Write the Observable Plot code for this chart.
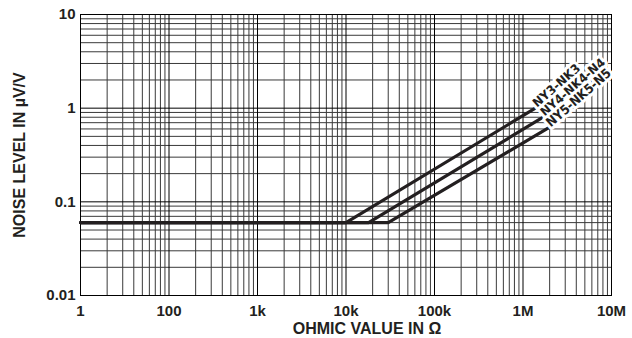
<!DOCTYPE html>
<html>
<head>
<meta charset="utf-8">
<script src="https://cdn.jsdelivr.net/npm/d3@7"></script>
<script src="https://cdn.jsdelivr.net/npm/@observablehq/plot@0.6"></script>
<style>
  body { margin: 0; background: #fff; }
</style>
</head>
<body>
<div id="chart"></div>
<script>
// Axis ticks and labels (the first decade is labelled "1" in the original)
const xTicks = [10, 100, 1e3, 1e4, 1e5, 1e6, 1e7];
const xTickLabels = ["1", "100", "1k", "10k", "100k", "1M", "10M"];
const yTicks = [0.01, 0.1, 1, 10];
const yTickLabels = ["0.01", "0.1", "1", "10"];

const xTitle = "OHMIC VALUE IN Ω";
const yTitle = "NOISE LEVEL IN µV/V";

// Series
const seriesNames = ["NY3-NK3", "NY4-NK4-N4", "NY5-NK5-N5"];
const ohmsNY3 = [10, 10000, 1380000];
const noiseNY3 = [0.06, 0.06, 1.0];
const ohmsNY4 = [10, 18000, 1690000];
const noiseNY4 = [0.06, 0.06, 0.8];
const ohmsNY5 = [10, 30000, 1960000];
const noiseNY5 = [0.06, 0.06, 0.62];

const seriesOhms = [ohmsNY3, ohmsNY4, ohmsNY5];
const seriesNoise = [noiseNY3, noiseNY4, noiseNY5];

const rows = [];
const ends = [];
seriesNames.forEach((name, s) => {
  seriesOhms[s].forEach((x, i) => rows.push({series: name, x, y: seriesNoise[s][i]}));
  const n = seriesOhms[s].length - 1;
  ends.push({series: name, x: seriesOhms[s][n], y: seriesNoise[s][n]});
});

// Minor log grid (2..9 within each decade)
const minorOf = (decades) => decades.slice(0, -1).flatMap(d => d3.range(2, 10).map(k => d * k));
const xMinor = minorOf(xTicks);
const yMinor = minorOf(yTicks);

const ink = "#231f20";
const font = "'Liberation Sans', Arial, Helvetica, sans-serif";
const narrow = "'Liberation Sans Narrow', 'Arial Narrow', 'DejaVu Sans Condensed', sans-serif";

const chart = Plot.plot({
  width: 632,
  height: 338,
  marginLeft: 80,
  marginRight: 21,
  marginTop: 14,
  marginBottom: 43,
  style: {fontFamily: font, fontSize: "15px", fontWeight: "bold", color: ink, background: "#fff"},
  x: {type: "log", domain: [xTicks[0], xTicks[xTicks.length - 1]]},
  y: {type: "log", domain: [yTicks[0], yTicks[yTicks.length - 1]]},
  marks: [
    Plot.ruleX(xMinor, {stroke: "#3a3a3a", strokeWidth: 1}),
    Plot.ruleY(yMinor, {stroke: "#3a3a3a", strokeWidth: 1}),
    Plot.ruleX(xTicks, {stroke: "#000", strokeWidth: 1}),
    Plot.ruleY(yTicks, {stroke: "#000", strokeWidth: 1}),
    Plot.frame({stroke: "#000", strokeWidth: 1}),
    Plot.line(rows, {x: "x", y: "y", z: "series", stroke: ink, strokeWidth: 3.2, strokeLinejoin: "miter"}),
    Plot.text(ends, {
      x: "x", y: "y", text: "series", textAnchor: "start", lineAnchor: "bottom",
      rotate: -41, dx: 2, dy: 0, fontSize: 13, fontWeight: "bold", fontFamily: narrow,
      fill: ink, stroke: "#fff", strokeWidth: 6, strokeLinejoin: "round"
    }),
    Plot.axisX({
      ticks: xTicks, tickFormat: d => xTickLabels[xTicks.indexOf(d)],
      tickSize: 0, tickPadding: 10, label: null, fontSize: 15, fontWeight: "bold"
    }),
    Plot.axisY({
      ticks: yTicks, tickFormat: d => yTickLabels[yTicks.indexOf(d)],
      tickSize: 0, tickPadding: 5, label: null, fontSize: 15, fontWeight: "bold"
    }),
    Plot.text([xTitle], {frameAnchor: "bottom", textAnchor: "middle", dx: 21, dy: 38, fontSize: 16, fontWeight: "bold", fill: ink}),
    Plot.text([yTitle], {frameAnchor: "left", textAnchor: "middle", lineAnchor: "middle", dx: -61, rotate: -90, fontSize: 16, fontWeight: "bold", fill: ink})
  ]
});

document.getElementById("chart").appendChild(chart);
</script>
</body>
</html>
